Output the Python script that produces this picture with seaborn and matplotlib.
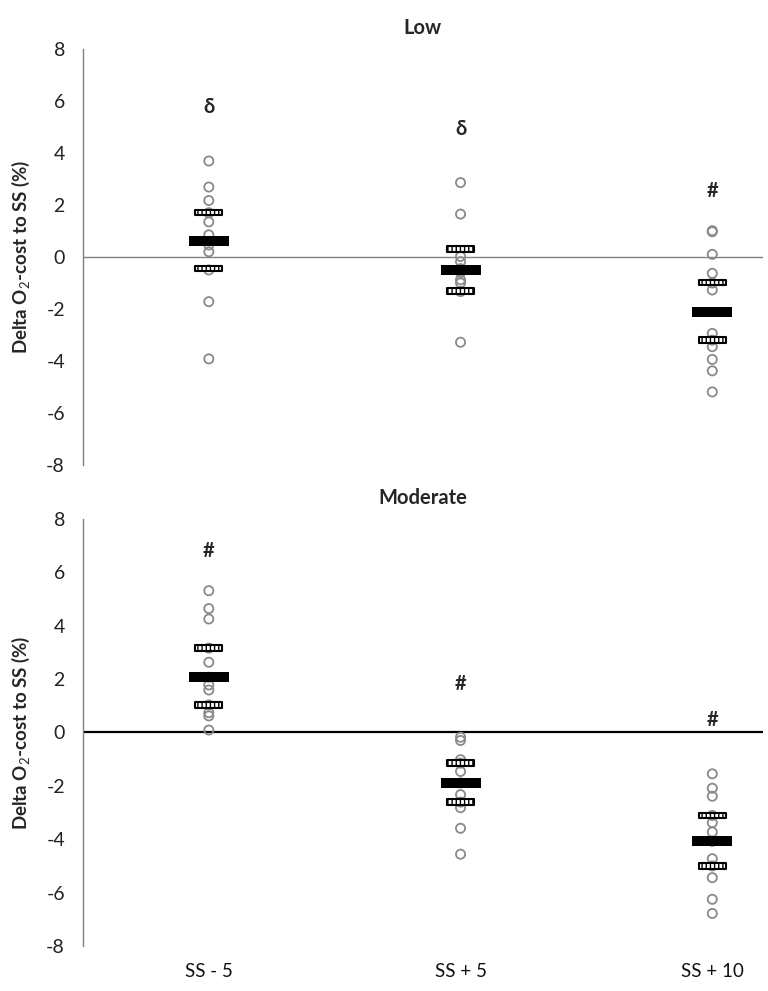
import numpy as np
import pandas as pd
import seaborn as sns
import matplotlib.pyplot as plt
from matplotlib.path import Path

sns.set_style('white')
plt.rcParams['font.family'] = ['Lato', 'DejaVu Sans']
plt.rcParams['mathtext.fontset'] = 'custom'
plt.rcParams['mathtext.rm'] = 'Lato'
plt.rcParams['mathtext.bf'] = 'Lato:bold'
plt.rcParams['hatch.linewidth'] = 1.0
plt.rcParams['axes.unicode_minus'] = False

conditions = ['SS - 5', 'SS + 5', 'SS + 10']

# individual values, Low
low_ss_m5 = [3.69, 2.69, 2.17, 1.70, 1.35, 0.85, 0.46, 0.20, -0.50, -1.72, -3.92]
low_ss_p5 = [2.86, 1.65, 0.02, -0.18, -0.45, -0.60, -0.88, -1.00, -1.33, -3.28]
low_ss_p10 = [1.01, 0.97, 0.10, -0.63, -1.00, -1.27, -2.94, -3.20, -3.45, -3.94, -4.38, -5.19]

# individual values, Moderate
mod_ss_m5 = [5.31, 4.64, 4.25, 3.16, 2.63, 2.07, 1.78, 1.59, 1.03, 0.74, 0.62, 0.09]
mod_ss_p5 = [-0.18, -0.30, -1.02, -1.15, -1.46, -1.89, -2.33, -2.61, -2.82, -3.59, -4.56]
mod_ss_p10 = [-1.55, -2.09, -2.39, -3.11, -3.38, -3.73, -4.08, -4.73, -5.00, -5.44, -6.25, -6.78]

# group means and band limits
low_mean = [0.62, -0.51, -2.12]
low_upper = [1.70, 0.30, -0.99]
low_lower = [-0.44, -1.31, -3.19]
mod_mean = [2.07, -1.89, -4.08]
mod_upper = [3.16, -1.15, -3.11]
mod_lower = [1.03, -2.61, -5.00]

# significance symbols
low_sym = ['δ', 'δ', '#']
low_sym_y = [5.77, 4.92, 2.54]
mod_sym = ['#', '#', '#']
mod_sym_y = [6.78, 1.81, 0.47]


def long_df(groups):
    rows = []
    for cond, vals in zip(conditions, groups):
        for v in vals:
            rows.append((cond, v))
    return pd.DataFrame(rows, columns=['cond', 'val'])


mean_marker = Path([(-1, -0.225), (1, -0.225), (1, 0.225), (-1, 0.225), (-1, -0.225)],
                   [1, 2, 2, 2, 79])
band_marker = Path([(-1, -0.2), (1, -0.2), (1, 0.2), (-1, 0.2), (-1, -0.2)],
                   [1, 2, 2, 2, 79])

fig = plt.figure(figsize=(7.68, 9.91), dpi=100)
ax_top = fig.add_axes([0.108, 0.5308, 0.885, 0.4198])
ax_bot = fig.add_axes([0.108, 0.0454, 0.885, 0.431])

panels = [
    (ax_top, 'Low', [low_ss_m5, low_ss_p5, low_ss_p10], low_mean, low_upper, low_lower,
     low_sym, low_sym_y, '#808080', 1.0),
    (ax_bot, 'Moderate', [mod_ss_m5, mod_ss_p5, mod_ss_p10], mod_mean, mod_upper, mod_lower,
     mod_sym, mod_sym_y, 'black', 1.6),
]

for ax, title, groups, means, upper, lower, sym, sym_y, zc, zlw in panels:
    ax.axhline(0, color=zc, lw=zlw, zorder=1)

    n0 = len(ax.collections)
    sns.stripplot(data=long_df(groups), x='cond', y='val', order=conditions, jitter=False,
                  ax=ax, size=6.6, edgecolor='#8a8a8a', linewidth=1.3, zorder=2)
    for c in ax.collections[n0:]:
        c.set_facecolor('none')
        c.set_edgecolor('#8a8a8a')

    bands = pd.DataFrame({'cond': conditions * 2, 'val': upper + lower})
    sns.stripplot(data=bands, x='cond', y='val', order=conditions, jitter=False, ax=ax,
                  marker=band_marker, size=19.5, color='white', edgecolor='black',
                  linewidth=1.5, hatch='||||', zorder=3)
    mdf = pd.DataFrame({'cond': conditions, 'val': means})
    sns.stripplot(data=mdf, x='cond', y='val', order=conditions, jitter=False, ax=ax,
                  marker=mean_marker, size=29, color='black', linewidth=0, zorder=4)

    for i, (s, yv) in enumerate(zip(sym, sym_y)):
        ax.text(i, yv, s, ha='center', va='center', fontsize=14.5, fontweight='bold')

    ax.set_xlim(-0.5, 2.2)
    ax.set_ylim(-8, 8)
    ax.set_yticks(np.arange(-8, 9, 2))
    ax.tick_params(axis='y', length=0, pad=13, labelsize=14, colors='#222222')
    ax.tick_params(axis='x', length=0, pad=12, labelsize=13.5, colors='#111111')
    for side in ['top', 'right', 'bottom']:
        ax.spines[side].set_visible(False)
    ax.spines['left'].set_color('#808080')
    ax.spines['left'].set_linewidth(1.0)
    ax.set_xlabel('')
    ax.set_ylabel(r'Delta O$_2$-cost to SS (%)', fontsize=13.5, fontweight='bold', labelpad=10)
    ax.set_title(title, fontsize=14.5, fontweight='bold', pad=11)

ax_top.set_xticklabels([])

fig.savefig('out.png', dpi=100)
